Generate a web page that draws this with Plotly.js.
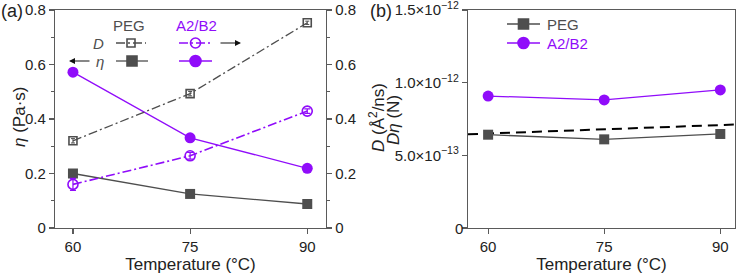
<!DOCTYPE html>
<html>
<head>
<meta charset="utf-8">
<script src="https://cdn.plot.ly/plotly-3.0.1.min.js"></script>
<style>
  html, body { margin: 0; padding: 0; background: #fff; }
  #chart { width: 741px; height: 274px; }
</style>
</head>
<body>
<div id="chart"></div>
<script>
// Measurement temperatures (°C)
const temps = [60, 75, 90];

// Viscosity eta (Pa·s)
const etaPEG  = [0.200, 0.125, 0.088];
const etaA2B2 = [0.572, 0.331, 0.219];

// Diffusion coefficient D (Å²/ns) and its uncertainty
const dPEG     = [0.320, 0.493, 0.753];
const dPEGErr  = [0.008, 0.008, 0.006];
const dA2B2    = [0.160, 0.265, 0.429];
const dA2B2Err = [0.022, 0.012, 0.008];

// Product D·eta (N)
const dEtaPEG  = [0.642e-12, 0.610e-12, 0.647e-12];
const dEtaA2B2 = [0.908e-12, 0.881e-12, 0.950e-12];

// Dashed reference line across panel (b)
const refT    = [57.4, 92.0];
const refDEta = [0.645e-12, 0.712e-12];

// Tick labels
const etaTicks   = [0, 0.2, 0.4, 0.6, 0.8];
const dEtaTicks  = [0, 5e-13, 1e-12, 1.5e-12];
const dEtaLabels = ['0', '5.0×10<sup>−13</sup>', '1.0×10<sup>−12</sup>', '1.5×10<sup>−12</sup>'];
const dEtaMinor  = [2.5e-13, 7.5e-13, 1.25e-12];

// Series names
const seriesNames = ['PEG', 'A2/B2'];

const GRAY = '#4e4e4e';
const PURPLE = '#900cfa';
const AXIS = '#5a5a5a';
const TEXT = '#222';
const DASHDOT = '9px,3px,2px,3px';
const FONT = 'Liberation Sans, Arial, sans-serif';

const W = 741, H = 274;
const px = v => v / W;
const py = v => 1 - v / H;

const traces = [
  // ---- panel (a): eta on the left axis
  { x: temps, y: etaPEG, xaxis: 'x', yaxis: 'y', mode: 'lines+markers', name: seriesNames[0],
    line: { color: GRAY, width: 1.3 }, marker: { symbol: 'square', size: 10, color: GRAY } },
  { x: temps, y: etaA2B2, xaxis: 'x', yaxis: 'y', mode: 'lines+markers', name: seriesNames[1],
    line: { color: PURPLE, width: 1.3 }, marker: { symbol: 'circle', size: 11, color: PURPLE } },
  // ---- panel (a): D on the right axis
  { x: temps, y: dPEG, xaxis: 'x', yaxis: 'y2', mode: 'lines+markers', name: seriesNames[0],
    line: { color: GRAY, width: 1.3, dash: DASHDOT },
    marker: { symbol: 'square-open', size: 8, color: GRAY, line: { width: 1.6 } },
    error_y: { type: 'data', array: dPEGErr, color: GRAY, thickness: 1, width: 2 } },
  { x: temps, y: dA2B2, xaxis: 'x', yaxis: 'y2', mode: 'lines+markers', name: seriesNames[1],
    line: { color: PURPLE, width: 1.6, dash: DASHDOT },
    marker: { symbol: 'circle-open', size: 10, color: PURPLE, line: { width: 1.6 } },
    error_y: { type: 'data', array: dA2B2Err, color: PURPLE, thickness: 1.2, width: 3 } },
  // ---- panel (b): D·eta
  { x: refT, y: refDEta, xaxis: 'x2', yaxis: 'y3', mode: 'lines',
    line: { color: '#000', width: 2, dash: '10px,6px' } },
  { x: temps, y: dEtaPEG, xaxis: 'x2', yaxis: 'y3', mode: 'lines+markers', name: seriesNames[0],
    line: { color: GRAY, width: 1.3 }, marker: { symbol: 'square', size: 10, color: GRAY } },
  { x: temps, y: dEtaA2B2, xaxis: 'x2', yaxis: 'y3', mode: 'lines+markers', name: seriesNames[1],
    line: { color: PURPLE, width: 1.3 }, marker: { symbol: 'circle', size: 11, color: PURPLE } }
];

// Key glyphs, drawn on a pixel-scaled overlay covering the whole figure
function keyGlyph(x0, x1, y, color, dash, symbol, size, lw) {
  traces.push({ x: [x0, x1], y: [y, y], xaxis: 'x3', yaxis: 'y4', mode: 'lines',
    hoverinfo: 'skip', line: { color: color, width: lw, dash: dash } });
  traces.push({ x: [(x0 + x1) / 2], y: [y], xaxis: 'x3', yaxis: 'y4', mode: 'markers',
    hoverinfo: 'skip', marker: { symbol: symbol, size: size, color: color, line: { width: 1.6, color: color } } });
}
// panel (a) key
keyGlyph(116, 146, 43, GRAY, DASHDOT, 'square-open', 8, 1.3);
keyGlyph(179, 212, 43, PURPLE, DASHDOT, 'circle-open', 10, 1.6);
keyGlyph(116, 148, 61, GRAY, 'solid', 'square', 10, 1.3);
keyGlyph(179, 212, 61, PURPLE, 'solid', 'circle', 11, 1.3);
// panel (b) key
keyGlyph(507, 540, 24, GRAY, 'solid', 'square', 10, 1.3);
keyGlyph(507, 540, 43, PURPLE, 'solid', 'circle', 11, 1.3);

const tickFont = { family: FONT, size: 15, color: TEXT };
const titleFont = { family: FONT, size: 17, color: TEXT };

const commonX = {
  tickvals: temps, ticks: 'outside', ticklen: 5, tickwidth: 1.2, tickcolor: AXIS,
  showline: true, linecolor: AXIS, linewidth: 1.2, mirror: true,
  showgrid: false, zeroline: false, tickfont: tickFont,
  title: { text: 'Temperature (°C)', font: titleFont, standoff: 9 }
};
const commonY = {
  ticks: 'outside', ticklen: 5, tickwidth: 1.2, tickcolor: AXIS,
  showline: true, linecolor: AXIS, linewidth: 1.2, showgrid: false, zeroline: false,
  tickfont: tickFont, ticklabeloverflow: 'allow'
};

function ann(x, y, text, size, color, extra) {
  return Object.assign({ xref: 'x3', yref: 'y4', x: x, y: y, text: text, showarrow: false,
    font: { family: FONT, size: size, color: color } }, extra || {});
}

const layout = {
  width: W, height: H,
  margin: { l: 0, r: 0, t: 0, b: 0 },
  paper_bgcolor: '#fff', plot_bgcolor: 'rgba(0,0,0,0)',
  font: { family: FONT, size: 15, color: TEXT },
  showlegend: false,
  xaxis: Object.assign({}, commonX, { domain: [px(55), px(326)], range: [57.7, 92.4], anchor: 'y' }),
  yaxis: Object.assign({}, commonY, {
    domain: [py(228), py(10)], range: [0, 0.8], anchor: 'x', tickvals: etaTicks,
    minor: { dtick: 0.1, ticks: 'outside', ticklen: 3, tickcolor: AXIS }
  }),
  yaxis2: Object.assign({}, commonY, {
    overlaying: 'y', side: 'right', anchor: 'x', range: [0, 0.8], tickvals: etaTicks,
    minor: { dtick: 0.1, ticks: 'outside', ticklen: 3, tickcolor: AXIS }
  }),
  xaxis2: Object.assign({}, commonX, { domain: [px(468), px(735)], range: [57.4, 91.9], anchor: 'y3' }),
  // the origin label of panel (b) is placed as an annotation below
  yaxis3: Object.assign({}, commonY, {
    domain: [py(228), py(10)], range: [0, 1.5e-12], anchor: 'x2', mirror: true,
    tickvals: dEtaTicks, ticktext: [''].concat(dEtaLabels.slice(1))
  }),
  // minor ticks of panel (b)
  yaxis5: {
    overlaying: 'y3', side: 'left', anchor: 'x2', range: [0, 1.5e-12],
    showline: false, tickvals: dEtaMinor, ticks: 'outside', ticklen: 3, tickwidth: 1.2, tickcolor: AXIS,
    showticklabels: false, showgrid: false, zeroline: false
  },
  xaxis3: { domain: [0, 1], range: [0, W], visible: false, fixedrange: true, anchor: 'y4' },
  yaxis4: { domain: [0, 1], range: [H, 0], visible: false, fixedrange: true, anchor: 'x3' },
  annotations: [
    // origin label of panel (b)
    ann(465, 228, dEtaLabels[0], 15, TEXT, { xanchor: 'right' }),
    // panel labels
    ann(12, 11, '(a)', 18, TEXT),
    ann(381, 11, '(b)', 18, TEXT),
    // y-axis titles
    ann(19, 117, '<i>η</i> (Pa·s)', 17, TEXT, { textangle: -90 }),
    ann(377, 118, '<i>D</i> (Å<sup>2</sup>/ns)', 17, TEXT, { textangle: -90 }),
    ann(393, 120, '<i>Dη</i> (N)', 17, TEXT, { textangle: -90 }),
    // panel (a) key text
    ann(129, 25, seriesNames[0], 15, GRAY),
    ann(196, 25, seriesNames[1], 15, PURPLE),
    ann(98, 43, '<i>D</i>', 15, GRAY),
    ann(100, 61, '<i>η</i>', 15, GRAY),
    // panel (b) key text
    ann(545, 24, seriesNames[0], 15, GRAY, { xanchor: 'left' }),
    ann(545, 43, seriesNames[1], 15, PURPLE, { xanchor: 'left' }),
    // direction arrows pointing to the matching axis
    { xref: 'x3', yref: 'y4', axref: 'x3', ayref: 'y4', x: 241, y: 43, ax: 219, ay: 43, text: '',
      showarrow: true, arrowhead: 2, arrowsize: 1, arrowwidth: 1.2, arrowcolor: '#111' },
    { xref: 'x3', yref: 'y4', axref: 'x3', ayref: 'y4', x: 69, y: 61, ax: 91, ay: 61, text: '',
      showarrow: true, arrowhead: 2, arrowsize: 1, arrowwidth: 1.2, arrowcolor: '#111' }
  ]
};

Plotly.newPlot('chart', traces, layout, { staticPlot: true, displayModeBar: false });
</script>
</body>
</html>
